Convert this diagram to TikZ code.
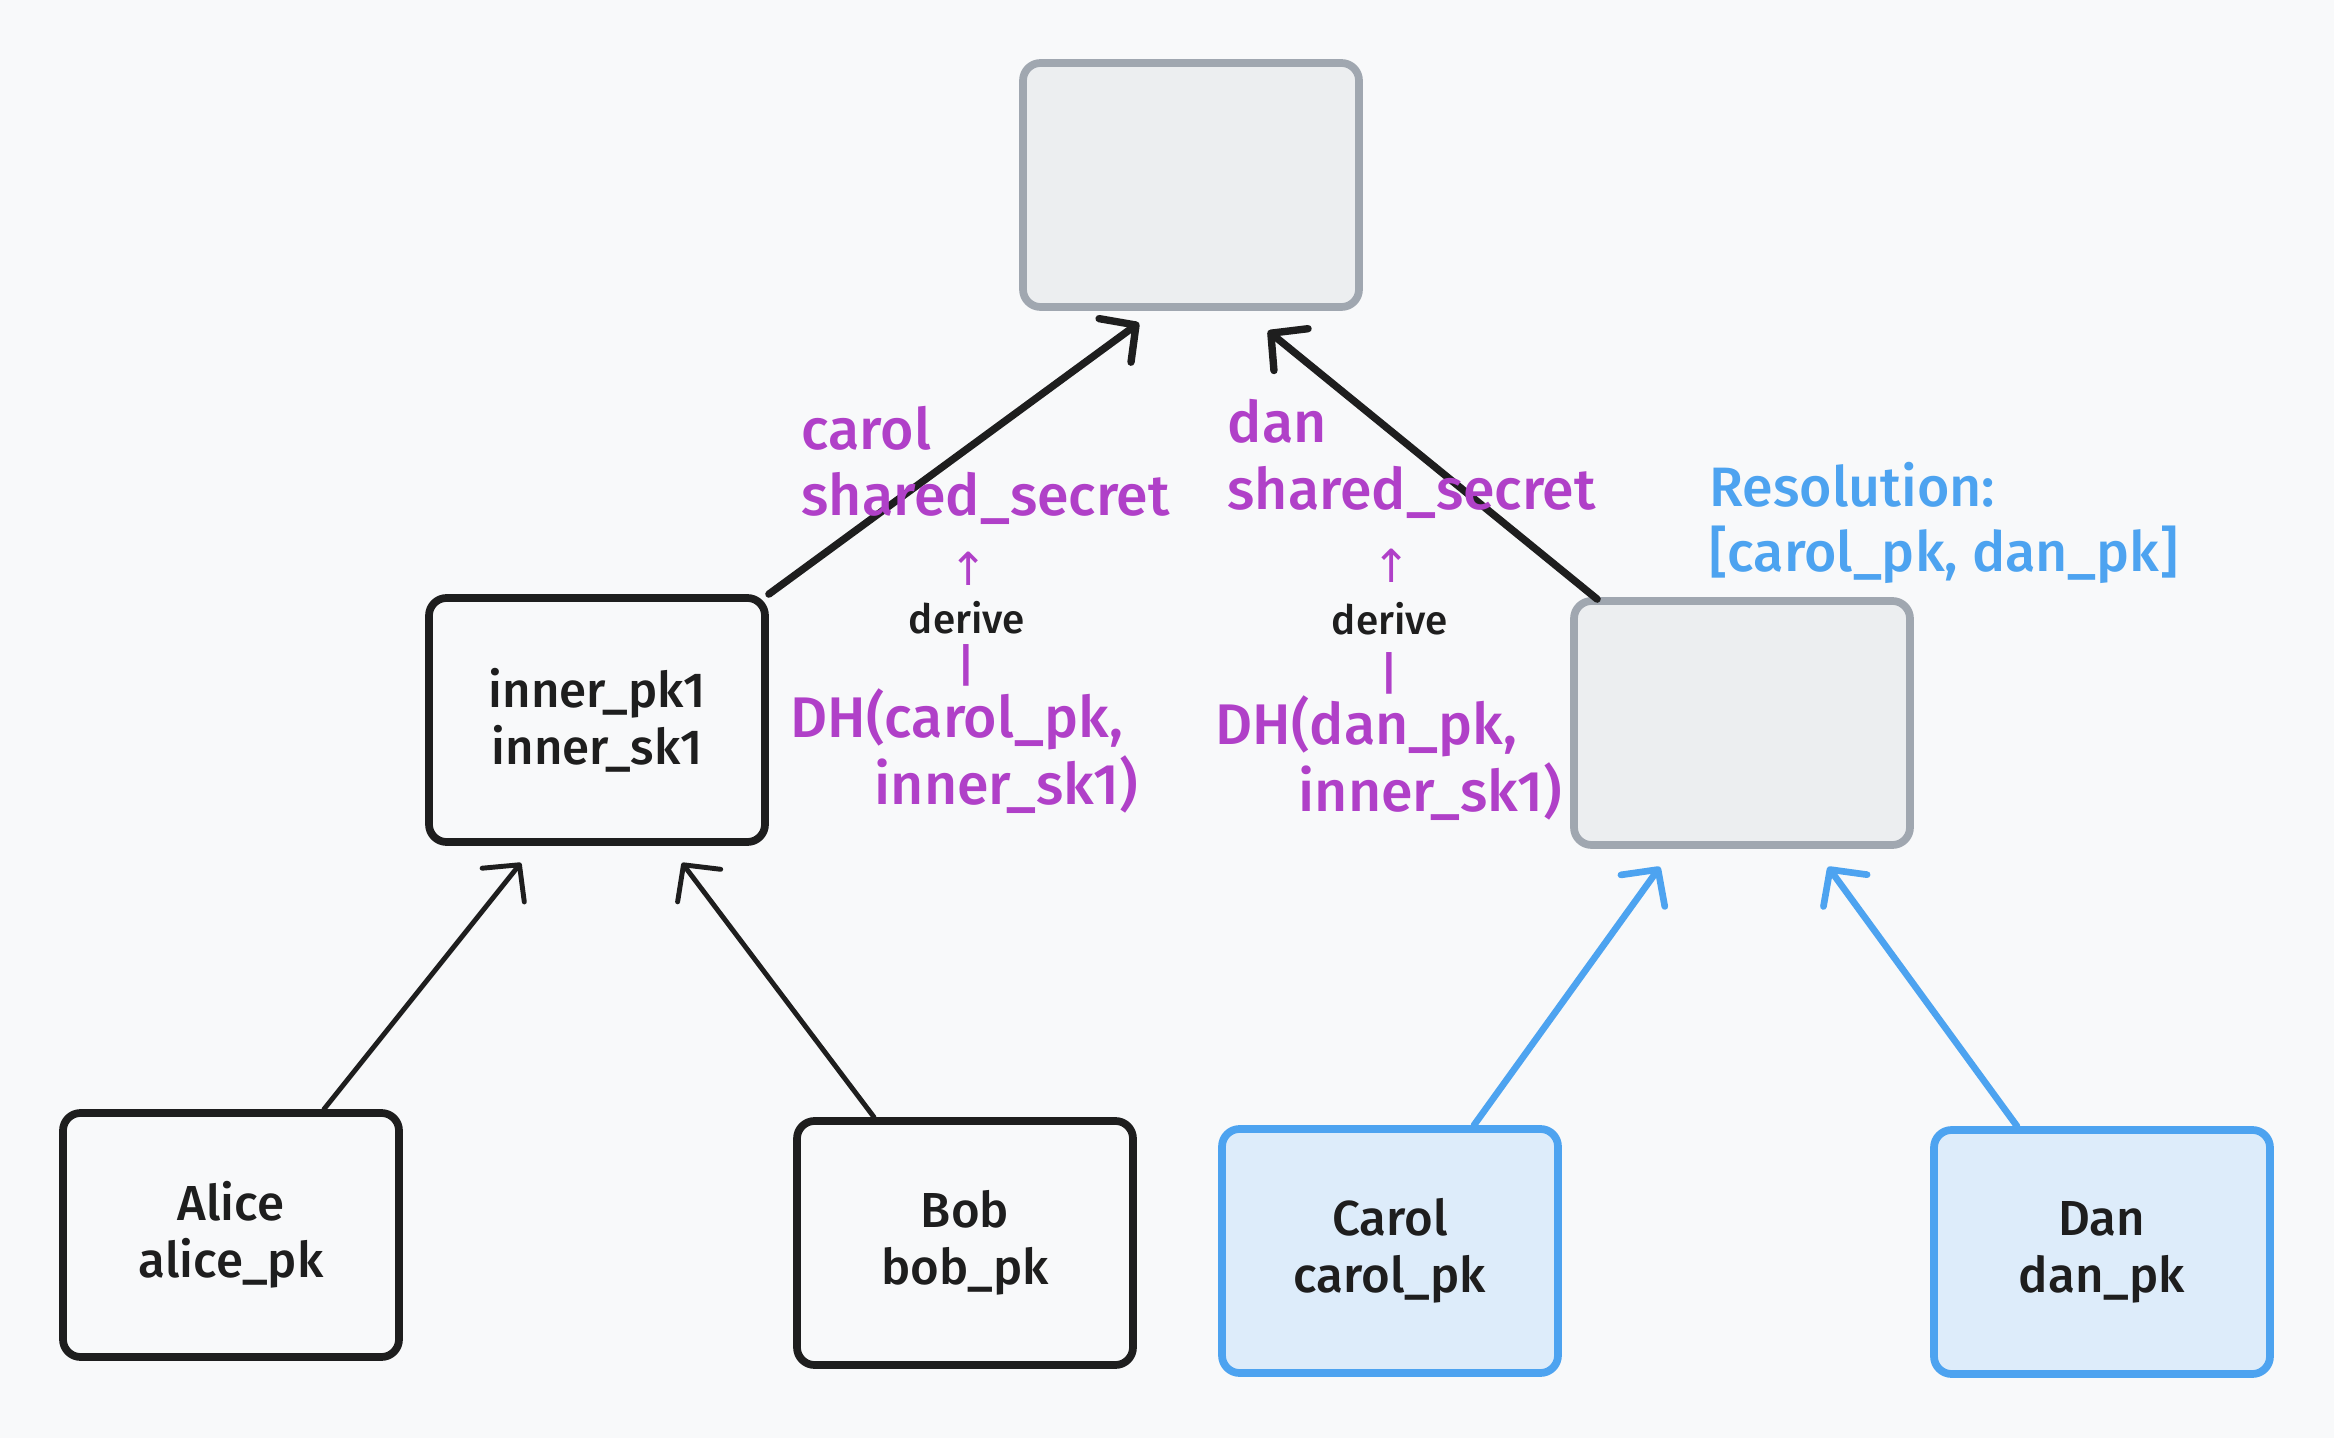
\documentclass[tikz,border=0pt]{standalone}
\usepackage{fontspec}
\setmainfont{Fira Sans Medium}
\newfontfamily\symfont{DejaVu Sans}
\definecolor{mPaper}{HTML}{F8F9FA}
\definecolor{mInk}{HTML}{1E1E1E}
\definecolor{mGrey}{HTML}{A0A7B0}
\definecolor{mGreyFill}{HTML}{ECEEF0}
\definecolor{mBlue}{HTML}{4DA3F0}
\definecolor{mBlueFill}{HTML}{DDECFA}
\definecolor{mPurple}{HTML}{B040C8}
\usetikzlibrary{positioning,arrows.meta,calc}

\begin{document}
\begin{tikzpicture}[
  box/.style={draw=mInk, line width=2.2pt, rounded corners=5pt, minimum width=3.36cm, minimum height=2.44cm, align=center, text=mInk, font=\fontsize{14}{16.2}\selectfont},
  greybox/.style={box, draw=mGrey, fill=mGreyFill},
  bluebox/.style={box, draw=mBlue, fill=mBlueFill},
  note/.style={anchor=west, align=left, inner sep=0pt, font=\fontsize{16.3}{19}\selectfont},
  tiny/.style={inner sep=0pt, text=mPurple, font=\fontsize{13}{15}\selectfont},
  arr/.style={-{Straight Barb[length=2.6mm,width=5.4mm,round]}, line cap=round, line width=1.4pt, mInk}
]
\fill[mPaper] (0,0) rectangle (23.34,-14.38);
\useasboundingbox (0,0) rectangle (23.34,-14.38);
% tree nodes
\node[greybox] (top) at (11.91,-1.85) {};
\node[box] (inner) at (5.97,-7.20) {inner\_pk1\\inner\_sk1};
\node[greybox] (rbox) at (17.42,-7.23) {};
\node[box] (alice) at (2.31,-12.35) {Alice\\alice\_pk};
\node[box] (bob) at (9.65,-12.43) {Bob\\bob\_pk};
\node[bluebox] (carol) at (13.90,-12.51) {Carol\\carol\_pk};
\node[bluebox] (dan) at (21.02,-12.52) {Dan\\dan\_pk};
% edges
\draw[arr, line width=2.1pt] (inner.north east) -- ($(top.south)+(-0.52,-0.12)$);
\draw[arr, line width=2.1pt] ($(rbox.north west)+(0.27,-0.02)$) -- ($(top.south)+(0.77,-0.20)$);
\draw[arr] ($(alice.north)+(0.93,0)$) -- ($(inner.south)+(-0.76,-0.17)$);
\draw[arr] ($(bob.north)+(-0.91,0)$) -- ($(inner.south)+(0.85,-0.17)$);
\draw[arr, mBlue, line width=1.9pt] ($(carol.north)+(0.84,0)$) -- ($(rbox.south)+(-0.82,-0.18)$);
\draw[arr, mBlue, line width=1.9pt] ($(dan.north)+(-0.85,0)$) -- ($(rbox.south)+(0.86,-0.18)$);
% carol side
\node[note, text=mPurple] (carolss) at (8.01,-4.655) {carol\\shared\_secret};
\node[tiny] (upA) at (9.69,-5.69) {\symfont ↑};
\node[inner sep=0pt, text=mInk, font=\fontsize{11.5}{13}\selectfont] (deriveA) at (9.67,-6.18) {derive};
\node[tiny] (barA) at (9.66,-6.65) {|};
\node[note, text=mPurple] (dhA) at (7.90,-7.51) {DH(carol\_pk,\\\hspace*{0.84cm}inner\_sk1)};
% dan side
\node[note, text=mPurple] (danss) at (12.27,-4.59) {dan\\shared\_secret};
\node[tiny] (upB) at (13.92,-5.66) {\symfont ↑};
\node[inner sep=0pt, text=mInk, font=\fontsize{11.5}{13}\selectfont] (deriveB) at (13.90,-6.19) {derive};
\node[tiny] (barB) at (13.89,-6.73) {|};
\node[note, text=mPurple] (dhB) at (12.15,-7.58) {DH(dan\_pk,\\\hspace*{0.83cm}inner\_sk1)};
% resolution
\node[note, text=mBlue, font=\fontsize{15.8}{18.5}\selectfont] (res) at (17.09,-5.225) {Resolution:\\{[carol\_pk, dan\_pk]}};
\end{tikzpicture}
\end{document}
